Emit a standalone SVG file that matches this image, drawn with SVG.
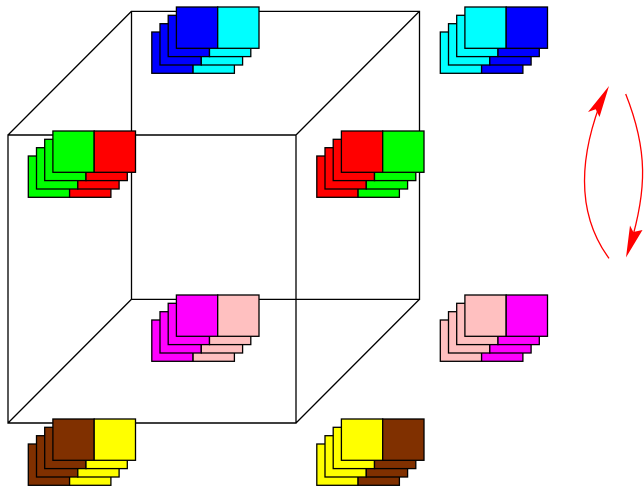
<svg xmlns="http://www.w3.org/2000/svg" width="644" height="486" viewBox="0 0 644 486">
<style>
.e{fill:none;stroke:#000;stroke-width:1.3}
.c rect{stroke:#000;stroke-width:1.3;width:41.3px;height:41.3px}
.bl{fill:#0000ff}.cy{fill:#00ffff}.gr{fill:#00ff00}.re{fill:#ff0000}.ma{fill:#ff00ff}.pk{fill:#ffc0c0}.br{fill:#803000}.ye{fill:#ffff00}
.a{fill:none;stroke:#ff0000;stroke-width:1.3}
.h{fill:#ff0000;stroke:none}
</style>
<g id="connectors">
<path class="e" d="M131.5 11.3H419.5V299.3H131.5ZM8 135H296V423H8ZM8 135L131.5 11.3M296 135L419.5 11.3M296 423L419.5 299.3M8 423L131.5 299.3"/>
<path class="a" d="M609 258.3C578 216 577 160 604 94"/>
<path class="h" d="M609 86L588 112L595.7 109.3L599.5 117Z"/>
<path class="a" d="M625.7 94C648 150 647 190 630 246"/>
<path class="h" d="M626 257.5L642.5 230L633.3 232L630 225.5Z"/>
</g>
<g id="stack-blue-cyan" class="c" transform="translate(176.4 7)"><rect class="bl" x="-24.6" y="25"/><rect class="cy" x="16.7" y="25"/><rect class="bl" x="-16.4" y="16.7"/><rect class="cy" x="24.9" y="16.7"/><rect class="bl" x="-8.2" y="8.3"/><rect class="cy" x="33.1" y="8.3"/><rect class="bl"/><rect class="cy" x="41.3"/></g>
<g id="stack-cyan-blue" class="c" transform="translate(464.9 7)"><rect class="cy" x="-24.6" y="25"/><rect class="bl" x="16.7" y="25"/><rect class="cy" x="-16.4" y="16.7"/><rect class="bl" x="24.9" y="16.7"/><rect class="cy" x="-8.2" y="8.3"/><rect class="bl" x="33.1" y="8.3"/><rect class="cy"/><rect class="bl" x="41.3"/></g>
<g id="stack-green-red" class="c" transform="translate(52.9 131)"><rect class="gr" x="-24.6" y="25"/><rect class="re" x="16.7" y="25"/><rect class="gr" x="-16.4" y="16.7"/><rect class="re" x="24.9" y="16.7"/><rect class="gr" x="-8.2" y="8.3"/><rect class="re" x="33.1" y="8.3"/><rect class="gr"/><rect class="re" x="41.3"/></g>
<g id="stack-red-green" class="c" transform="translate(341.4 131)"><rect class="re" x="-24.6" y="25"/><rect class="gr" x="16.7" y="25"/><rect class="re" x="-16.4" y="16.7"/><rect class="gr" x="24.9" y="16.7"/><rect class="re" x="-8.2" y="8.3"/><rect class="gr" x="33.1" y="8.3"/><rect class="re"/><rect class="gr" x="41.3"/></g>
<g id="stack-magenta-pink" class="c" transform="translate(176.4 295)"><rect class="ma" x="-24.6" y="25"/><rect class="pk" x="16.7" y="25"/><rect class="ma" x="-16.4" y="16.7"/><rect class="pk" x="24.9" y="16.7"/><rect class="ma" x="-8.2" y="8.3"/><rect class="pk" x="33.1" y="8.3"/><rect class="ma"/><rect class="pk" x="41.3"/></g>
<g id="stack-pink-magenta" class="c" transform="translate(464.9 295)"><rect class="pk" x="-24.6" y="25"/><rect class="ma" x="16.7" y="25"/><rect class="pk" x="-16.4" y="16.7"/><rect class="ma" x="24.9" y="16.7"/><rect class="pk" x="-8.2" y="8.3"/><rect class="ma" x="33.1" y="8.3"/><rect class="pk"/><rect class="ma" x="41.3"/></g>
<g id="stack-brown-yellow" class="c" transform="translate(52.9 419)"><rect class="br" x="-24.6" y="25"/><rect class="ye" x="16.7" y="25"/><rect class="br" x="-16.4" y="16.7"/><rect class="ye" x="24.9" y="16.7"/><rect class="br" x="-8.2" y="8.3"/><rect class="ye" x="33.1" y="8.3"/><rect class="br"/><rect class="ye" x="41.3"/></g>
<g id="stack-yellow-brown" class="c" transform="translate(341.4 419)"><rect class="ye" x="-24.6" y="25"/><rect class="br" x="16.7" y="25"/><rect class="ye" x="-16.4" y="16.7"/><rect class="br" x="24.9" y="16.7"/><rect class="ye" x="-8.2" y="8.3"/><rect class="br" x="33.1" y="8.3"/><rect class="ye"/><rect class="br" x="41.3"/></g>
</svg>
